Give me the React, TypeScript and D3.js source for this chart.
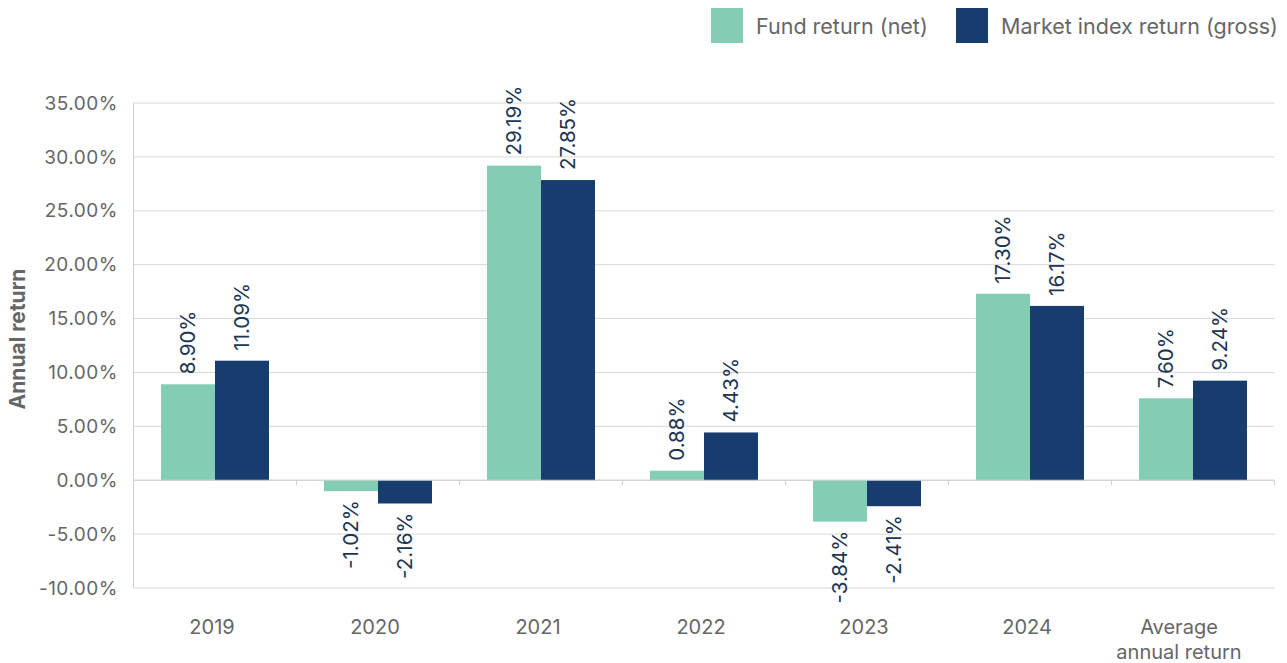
import React from "react";
import * as d3 from "d3";

const categories = ["2019", "2020", "2021", "2022", "2023", "2024", "Average\nannual return"];
const series = ["Fund return (net)", "Market index return (gross)"];
const fundValues = [8.9, -1.02, 29.19, 0.88, -3.84, 17.3, 7.6];
const marketValues = [11.09, -2.16, 27.85, 4.43, -2.41, 16.17, 9.24];
const yTicks = [35, 30, 25, 20, 15, 10, 5, 0, -5, -10];
const colors = ["#82CDB4", "#173C6E"];

const FONT = "Inter, 'Noto Sans', sans-serif";
const pct = (v: number) => d3.format(".2f")(v).replace("\u2212", "-") + "%";

export default function App() {
  const W = 1287, H = 663;
  const left = 133.5, right = 1274.5, top = 103, bottom = 588;
  const y = d3.scaleLinear().domain([-10, 35]).range([bottom, top]);
  const x = d3.scaleBand<string>().domain(categories).range([left, right]).padding(0);
  const step = x.bandwidth();
  const inner = d3.scaleBand<string>().domain(series).range([step * 0.1687, step * 0.8313]).padding(0);
  const data = [fundValues, marketValues];
  const y0 = y(0);
  const legendX = [711, 956];

  return (
    <svg width={W} height={H} style={{ position: "absolute", left: 0, top: 0, background: "#fff" }} fontFamily={FONT}>
      {/* legend */}
      {series.map((s, i) => {
        const lx = legendX[i];
        return (
          <g key={s}>
            <rect x={lx} y={8} width={32} height={35} fill={colors[i]} />
            <text x={lx + 45} y={34} fontSize={21.5} fill="#666">{s}</text>
          </g>
        );
      })}
      {/* gridlines */}
      {yTicks.map((t) => (
        <g key={t}>
          <line x1={left} x2={right} y1={y(t)} y2={y(t)} stroke="#d9d9d9" strokeWidth={1} />
          <text x={118} y={y(t)} dy="0.35em" textAnchor="end" fontSize={19} letterSpacing={0.5} fill="#666">
            {pct(t)}
          </text>
        </g>
      ))}
      {/* y axis line */}
      <line x1={left} x2={left} y1={top} y2={bottom} stroke="#d0d0d0" />
      {/* bars */}
      {categories.map((c) => (
        <g key={c} transform={`translate(${x(c)},0)`}>
          {series.map((s, i) => {
            const v = data[i][categories.indexOf(c)];
            const bx = inner(s)!;
            const bw = inner.bandwidth();
            const yv = y(v);
            return (
              <rect key={s} x={bx} width={bw} y={Math.min(yv, y0)} height={Math.abs(yv - y0)} fill={colors[i]} />
            );
          })}
        </g>
      ))}
      {/* zero line + ticks */}
      <line x1={left} x2={right} y1={y0} y2={y0} stroke="#d0d0d0" />
      {d3.range(categories.length + 1).map((k) => {
        const tx = left + step * k;
        return <line key={k} x1={tx} x2={tx} y1={y0} y2={y0 + 5} stroke="#d0d0d0" />;
      })}
      {/* value labels */}
      {categories.map((c) => (
        <g key={c + "l"} transform={`translate(${x(c)},0)`}>
          {series.map((s, i) => {
            const v = data[i][categories.indexOf(c)];
            const cx = inner(s)! + inner.bandwidth() / 2;
            const yv = y(v);
            const pos = v >= 0;
            const ly = pos ? yv - 10 : yv + 9;
            return (
              <text
                key={s}
                transform={`translate(${cx},${ly}) rotate(-90)`}
                textAnchor={pos ? "start" : "end"}
                dy="0.36em"
                fontSize={20.5}
                fill="#1b3553"
              >
                {pct(v)}
              </text>
            );
          })}
        </g>
      ))}
      {/* x labels */}
      {categories.map((c, k) => {
        const lines = c.split("\n");
        const cx = x(c)! + step / 2 + (lines.length > 1 ? -14 : -3);
        return (
          <text key={c + "x"} x={cx} y={634} textAnchor="middle" fontSize={20} fill="#666">
            {lines.map((ln, j) => (
              <tspan key={j} x={cx} dy={j === 0 ? 0 : 25}>{ln}</tspan>
            ))}
          </text>
        );
      })}
      {/* y title */}
      <text transform={`translate(18,339) rotate(-90)`} textAnchor="middle" dy="0.35em" fontSize={21} fontWeight="bold" fill="#666">
        Annual return
      </text>
    </svg>
  );
}
